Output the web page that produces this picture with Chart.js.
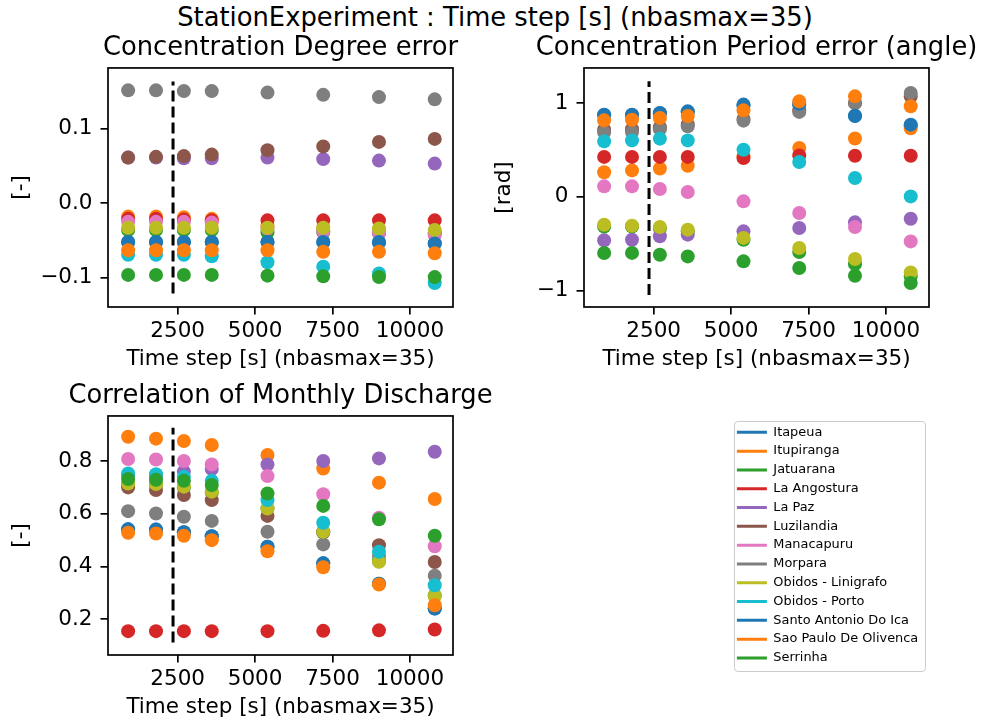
<!DOCTYPE html>
<html>
<head>
<meta charset="utf-8">
<script src="https://cdn.jsdelivr.net/npm/chart.js@4"></script>
<style>
  body { margin: 0; background: #fff; width: 981px; height: 724px; position: relative; overflow: hidden; font-family: "DejaVu Sans", sans-serif; }
  canvas { position: absolute; }
  #suptitle { position: absolute; left: 0; width: 990px; top: 2px; text-align: center; font-size: 25.8px; line-height: 30px; color: #000; }
  #legendFrame { position: absolute; left: 734px; top: 421px; width: 190px; height: 249px; border: 1.5px solid #cccccc; border-radius: 4px; }
</style>
</head>
<body>
<div id="suptitle">StationExperiment : Time step [s] (nbasmax=35)</div>
<div id="legendFrame"></div>
<canvas id="c1" width="561" height="345" style="left:0px;top:30px"></canvas>
<canvas id="c2" width="553" height="345" style="left:480px;top:30px"></canvas>
<canvas id="c3" width="561" height="345" style="left:0px;top:378px"></canvas>
<canvas id="leg" width="230" height="262" style="left:731px;top:420px"></canvas>
<script>
// time steps tested (s)
const timeSteps = [900, 1800, 2700, 3600, 5400, 7200, 9000, 10800];
const xTicks = [2500, 5000, 7500, 10000];
const refStep = 2350; // dashed reference line

const stations = ["Itapeua", "Itupiranga", "Jatuarana", "La Angostura", "La Paz", "Luzilandia",
  "Manacapuru", "Morpara", "Obidos - Linigrafo", "Obidos - Porto", "Santo Antonio Do Ica",
  "Sao Paulo De Olivenca", "Serrinha"];
const colors = ["#1f77b4", "#ff7f0e", "#2ca02c", "#d62728", "#9467bd", "#8c564b",
  "#e377c2", "#7f7f7f", "#bcbd22", "#17becf", "#1f77b4", "#ff7f0e", "#2ca02c"];

// one row per station, same order as stations
const degreeErr = [
  [-0.052, -0.052, -0.052, -0.052, -0.052, -0.052, -0.053, -0.054],
  [-0.018, -0.018, -0.019, -0.021, -0.030, -0.033, -0.036, -0.040],
  [-0.036, -0.036, -0.036, -0.036, -0.039, -0.039, -0.040, -0.040],
  [-0.021, -0.021, -0.022, -0.023, -0.023, -0.023, -0.023, -0.023],
  [0.061, 0.061, 0.060, 0.060, 0.061, 0.059, 0.057, 0.053],
  [0.061, 0.062, 0.063, 0.065, 0.071, 0.076, 0.082, 0.086],
  [-0.025, -0.025, -0.025, -0.026, -0.034, -0.038, -0.040, -0.043],
  [0.151, 0.151, 0.150, 0.150, 0.148, 0.145, 0.142, 0.139],
  [-0.033, -0.033, -0.033, -0.033, -0.033, -0.033, -0.034, -0.036],
  [-0.069, -0.069, -0.069, -0.071, -0.079, -0.085, -0.094, -0.107],
  [-0.052, -0.052, -0.052, -0.052, -0.052, -0.052, -0.052, -0.054],
  [-0.063, -0.063, -0.063, -0.063, -0.063, -0.065, -0.065, -0.067],
  [-0.096, -0.096, -0.096, -0.096, -0.097, -0.098, -0.099, -0.099]
];
const periodErr = [
  [0.87, 0.87, 0.89, 0.90, 0.97, 0.98, 0.86, 0.76],
  [0.26, 0.28, 0.30, 0.33, 0.43, 0.52, 0.62, 0.73],
  [-0.32, -0.32, -0.34, -0.37, -0.46, -0.59, -0.72, -0.85],
  [0.424, 0.424, 0.424, 0.424, 0.413, 0.44, 0.437, 0.437],
  [-0.466, -0.46, -0.423, -0.405, -0.37, -0.334, -0.274, -0.235],
  [0.715, 0.72, 0.74, 0.77, 0.83, 0.92, 1.0, 1.07],
  [0.11, 0.11, 0.082, 0.05, -0.05, -0.174, -0.324, -0.477],
  [0.686, 0.69, 0.72, 0.75, 0.811, 0.904, 1.0, 1.107],
  [-0.299, -0.31, -0.324, -0.352, -0.44, -0.548, -0.665, -0.808],
  [0.59, 0.60, 0.619, 0.60, 0.50, 0.37, 0.199, 0.003],
  [0.875, 0.875, 0.893, 0.91, 0.982, 0.99, 0.864, 0.768],
  [0.814, 0.82, 0.84, 0.86, 0.921, 1.017, 1.07, 0.964],
  [-0.601, -0.60, -0.619, -0.637, -0.69, -0.761, -0.843, -0.921]
];
const monthlyCorr = [
  [0.541, 0.54, 0.53, 0.515, 0.475, 0.412, 0.335, 0.241],
  [0.892, 0.885, 0.876, 0.861, 0.823, 0.772, 0.718, 0.656],
  [0.71, 0.71, 0.70, 0.68, 0.62, 0.53, 0.42, 0.29],
  [0.155, 0.155, 0.155, 0.155, 0.155, 0.156, 0.158, 0.161],
  [0.745, 0.745, 0.76, 0.77, 0.787, 0.80, 0.81, 0.835],
  [0.70, 0.69, 0.671, 0.652, 0.592, 0.53, 0.481, 0.417],
  [0.808, 0.806, 0.80, 0.787, 0.743, 0.674, 0.585, 0.477],
  [0.61, 0.601, 0.589, 0.573, 0.532, 0.484, 0.44, 0.365],
  [0.715, 0.713, 0.703, 0.684, 0.62, 0.532, 0.418, 0.288],
  [0.753, 0.75, 0.74, 0.725, 0.652, 0.566, 0.456, 0.329],
  [0.541, 0.54, 0.53, 0.515, 0.475, 0.412, 0.335, 0.241],
  [0.528, 0.525, 0.517, 0.50, 0.458, 0.397, 0.332, 0.253],
  [0.732, 0.729, 0.725, 0.709, 0.677, 0.63, 0.579, 0.517]
];

Chart.defaults.font.family = "'DejaVu Sans', sans-serif";
Chart.defaults.color = "#000";
Chart.defaults.animation = false;

const minus = (s) => s.replace("-", "\u2212");

// full box around the axes, like matplotlib spines
const frame = {
  id: "frame",
  afterDatasetsDraw(chart) {
    const a = chart.chartArea, ctx = chart.ctx;
    ctx.save();
    ctx.strokeStyle = "#000";
    ctx.lineWidth = 1.7;
    ctx.strokeRect(a.left, a.top, a.right - a.left, a.bottom - a.top);
    ctx.restore();
  }
};

function makePanel(id, title, yTitle, rows, yMin, yMax, yStep, fmt, vline, sideW, yTitlePad) {
  const datasets = rows.map((row, i) => ({
    label: stations[i],
    data: row.map((v, j) => ({ x: timeSteps[j], y: v })),
    backgroundColor: colors[i],
    borderWidth: 0,
    pointRadius: 7,
    order: 20 - i
  }));
  datasets.push({
    label: "ref",
    data: [{ x: refStep, y: vline[0] }, { x: refStep, y: vline[1] }],
    showLine: true,
    borderColor: "#000",
    borderWidth: 3,
    borderDash: [11, 5],
    pointRadius: 0,
    order: 0
  });
  const grid = { display: true, drawOnChartArea: false, drawTicks: true, tickLength: 7.5, lineWidth: 1.7, tickColor: "#000" };
  return new Chart(document.getElementById(id), {
    type: "scatter",
    data: { datasets },
    options: {
      responsive: false,
      layout: { padding: 0 },
      plugins: {
        legend: { display: false },
        tooltip: { enabled: false },
        title: {
          display: true, text: title,
          font: { size: 25.8, weight: "normal" }, color: "#000",
          padding: { top: 2.5, bottom: 4.5 }
        }
      },
      scales: {
        x: {
          type: "linear", min: 250, max: 11390,
          border: { display: false },
          grid,
          afterBuildTicks(s) { s.ticks = xTicks.map((v) => ({ value: v })); },
          ticks: { autoSkip: false, maxRotation: 0, font: { size: 21.5 }, color: "#000", padding: 4,
                   callback: (v) => String(v) },
          title: { display: true, text: "Time step [s] (nbasmax=35)", font: { size: 21.5 }, color: "#000",
                   padding: { top: 0, bottom: 3 } },
          afterFit(s) { s.height = 68; }
        },
        y: {
          type: "linear", min: yMin, max: yMax,
          border: { display: false },
          grid,
          ticks: { stepSize: yStep, includeBounds: false, font: { size: 21.5 }, color: "#000", padding: 8,
                   callback: (v) => minus(fmt(v)) },
          title: { display: true, text: yTitle, font: { size: 21.5 }, color: "#000",
                   padding: { top: yTitlePad, bottom: 0 } },
          afterFit(s) { s.width = sideW; }
        },
        // empty right side so the title centres over the axes
        yR: {
          position: "right", display: true,
          grid: { display: false }, ticks: { display: false }, border: { display: false },
          afterFit(s) { s.width = sideW; }
        }
      }
    },
    plugins: [frame]
  });
}

makePanel("c1", "Concentration Degree error", "[-]", degreeErr, -0.139, 0.181, 0.1,
  (v) => v.toFixed(1), [-0.121, 0.163], 108, 9);
makePanel("c2", "Concentration Period error (angle)", "[rad]", periodErr, -1.177, 1.373, 1,
  (v) => v.toFixed(0), [-1.05, 1.23], 104, 12);
makePanel("c3", "Correlation of Monthly Discharge", "[-]", monthlyCorr, 0.0645, 0.971, 0.2,
  (v) => v.toFixed(1), [0.112, 0.926], 108, 9);

// legend panel
new Chart(document.getElementById("leg"), {
  type: "scatter",
  data: { datasets: stations.map((s, i) => ({ label: s, data: [], backgroundColor: colors[i], borderColor: colors[i], borderWidth: 0 })) },
  options: {
    responsive: false,
    scales: { x: { display: false }, y: { display: false } },
    plugins: {
      tooltip: { enabled: false },
      legend: {
        position: "left", align: "start", maxWidth: 300,
        labels: { boxWidth: 30, boxHeight: 3, padding: 5.9, color: "#000", font: { size: 12.9 } }
      }
    }
  }
});
</script>
</body>
</html>
